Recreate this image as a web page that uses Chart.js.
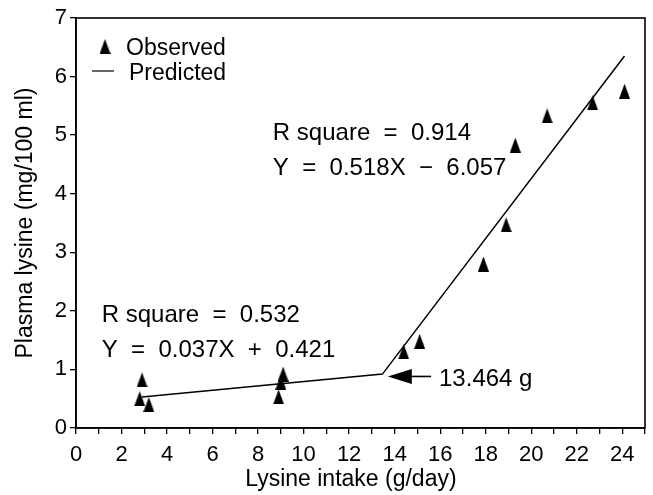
<!DOCTYPE html>
<html>
<head>
<meta charset="utf-8">
<title>Plasma lysine vs lysine intake</title>
<script src="https://cdn.jsdelivr.net/npm/chart.js"></script>
<style>
    html, body { margin: 0; padding: 0; background: #fff; }
    #wrap { width: 653px; height: 495px; position: relative; }
</style>
</head>
<body>
<div id="wrap"><canvas id="chart"></canvas></div>
<script>
// Observed points (lysine intake g/day, plasma lysine mg/100 ml)
const observedX = [2.8, 2.9, 3.2, 8.9, 9.0, 9.1, 14.4, 15.1, 17.9, 18.9, 19.3, 20.7, 22.7, 24.1];
const observedY = [0.50, 0.82, 0.40, 0.53, 0.78, 0.92, 1.30, 1.48, 2.80, 3.47, 4.83, 5.33, 5.55, 5.75];

// Predicted broken-line fit (start, breakpoint, end)
const predictedX = [2.9, 13.464, 24.1];
const predictedY = [0.53, 0.92, 6.35];

const xTickLabels = ['0', '2', '4', '6', '8', '10', '12', '14', '16', '18', '20', '22', '24'];
const yTickLabels = ['0', '1', '2', '3', '4', '5', '6', '7'];

// Text annotations, placed in data units
const notes = [
    { text: 'R square  =  0.914', x: 8.65, y: 4.92 },
    { text: 'Y  =  0.518X  \u2212  6.057', x: 8.65, y: 4.32 },
    { text: 'R square  =  0.532', x: 1.13, y: 1.81 },
    { text: 'Y  =  0.037X  +  0.421', x: 1.13, y: 1.21 },
    { text: '13.464 g', x: 15.95, y: 0.72 }
];
const arrow = { tipX: 13.7, tailX: 15.6, y: 0.88 };

const FONT = "'Liberation Sans', Arial, Helvetica, sans-serif";

function toPoints(xs, ys) {
    return xs.map((x, i) => ({ x: x, y: ys[i] }));
}

// tall narrow triangle marker, like the printed figure
function makeTriangle(w, h) {
    const c = document.createElement('canvas');
    c.width = w;
    c.height = h;
    const g = c.getContext('2d');
    g.fillStyle = '#000';
    g.beginPath();
    g.moveTo(w / 2, 0);
    g.lineTo(w, h);
    g.lineTo(0, h);
    g.closePath();
    g.fill();
    return c;
}
const triangle = makeTriangle(11, 15);

const decorations = {
    id: 'decorations',
    afterDraw(chart) {
        const ctx = chart.ctx;
        const a = chart.chartArea;
        const sx = chart.scales.x;
        const sy = chart.scales.y;
        ctx.save();

        // frame round the plot
        ctx.strokeStyle = '#000';
        ctx.lineWidth = 1.6;
        ctx.strokeRect(a.left, a.top, a.right - a.left, a.bottom - a.top);

        // annotations
        ctx.fillStyle = '#000';
        ctx.font = '24px ' + FONT;
        ctx.textBaseline = 'alphabetic';
        ctx.textAlign = 'left';
        notes.forEach(n => {
            ctx.fillText(n.text, sx.getPixelForValue(n.x), sy.getPixelForValue(n.y));
        });

        // arrow pointing at breakpoint
        const tip = sx.getPixelForValue(arrow.tipX);
        const tail = sx.getPixelForValue(arrow.tailX);
        const ay = sy.getPixelForValue(arrow.y);
        ctx.lineWidth = 1.6;
        ctx.beginPath();
        ctx.moveTo(tip + 18, ay);
        ctx.lineTo(tail, ay);
        ctx.stroke();
        ctx.beginPath();
        ctx.moveTo(tip, ay);
        ctx.lineTo(tip + 24, ay - 7.5);
        ctx.lineTo(tip + 24, ay + 7.5);
        ctx.closePath();
        ctx.fill();

        // legend
        ctx.font = '23px ' + FONT;
        ctx.drawImage(triangle, 99.5, 39);
        ctx.fillText('Observed', 126, 55);
        ctx.lineWidth = 1.2;
        ctx.beginPath();
        ctx.moveTo(92, 71);
        ctx.lineTo(114, 71);
        ctx.stroke();
        ctx.fillText('Predicted', 129, 80);

        ctx.restore();
    }
};

new Chart(document.getElementById('chart'), {
    type: 'scatter',
    data: {
        datasets: [
            {
                label: 'Observed',
                data: toPoints(observedX, observedY),
                pointStyle: triangle,
                pointRadius: 7,
                backgroundColor: '#000',
                borderColor: '#000',
                showLine: false
            },
            {
                label: 'Predicted',
                data: toPoints(predictedX, predictedY),
                showLine: true,
                pointRadius: 0,
                borderColor: '#000',
                borderWidth: 1.5,
                fill: false
            }
        ]
    },
    options: {
        responsive: true,
        maintainAspectRatio: false,
        animation: false,
        layout: { padding: { top: 18, right: 1, left: 0, bottom: 0 } },
        plugins: {
            legend: { display: false },
            tooltip: { enabled: false }
        },
        scales: {
            x: {
                type: 'linear',
                min: 0,
                max: 25,
                afterFit(scale) { scale.height = 67; },
                border: { color: '#000', width: 1.6 },
                grid: {
                    drawOnChartArea: false,
                    drawTicks: true,
                    tickLength: 6,
                    color: '#000',
                    lineWidth: 1.3
                },
                ticks: {
                    stepSize: 1,
                    autoSkip: false,
                    maxRotation: 0,
                    padding: 8,
                    color: '#000',
                    font: { family: FONT, size: 22 },
                    callback: v => xTickLabels.includes(String(v)) ? String(v) : ''
                },
                title: {
                    display: true,
                    text: 'Lysine intake (g/day)   ',
                    color: '#000',
                    font: { family: FONT, size: 23 },
                    padding: { top: 0, bottom: 2 }
                }
            },
            y: {
                type: 'linear',
                min: 0,
                max: 7,
                afterFit(scale) { scale.width = 76; },
                border: { color: '#000', width: 1.6 },
                grid: {
                    drawOnChartArea: false,
                    drawTicks: true,
                    tickLength: 6,
                    color: '#000',
                    lineWidth: 1.3
                },
                ticks: {
                    stepSize: 1,
                    padding: 3,
                    color: '#000',
                    font: { family: FONT, size: 22 },
                    callback: v => yTickLabels.includes(String(v)) ? String(v) : ''
                },
                title: {
                    display: true,
                    text: 'Plasma lysine (mg/100 ml)',
                    color: '#000',
                    font: { family: FONT, size: 23 },
                    padding: { top: 12, bottom: 0 }
                }
            }
        }
    },
    plugins: [decorations]
});
</script>
</body>
</html>
